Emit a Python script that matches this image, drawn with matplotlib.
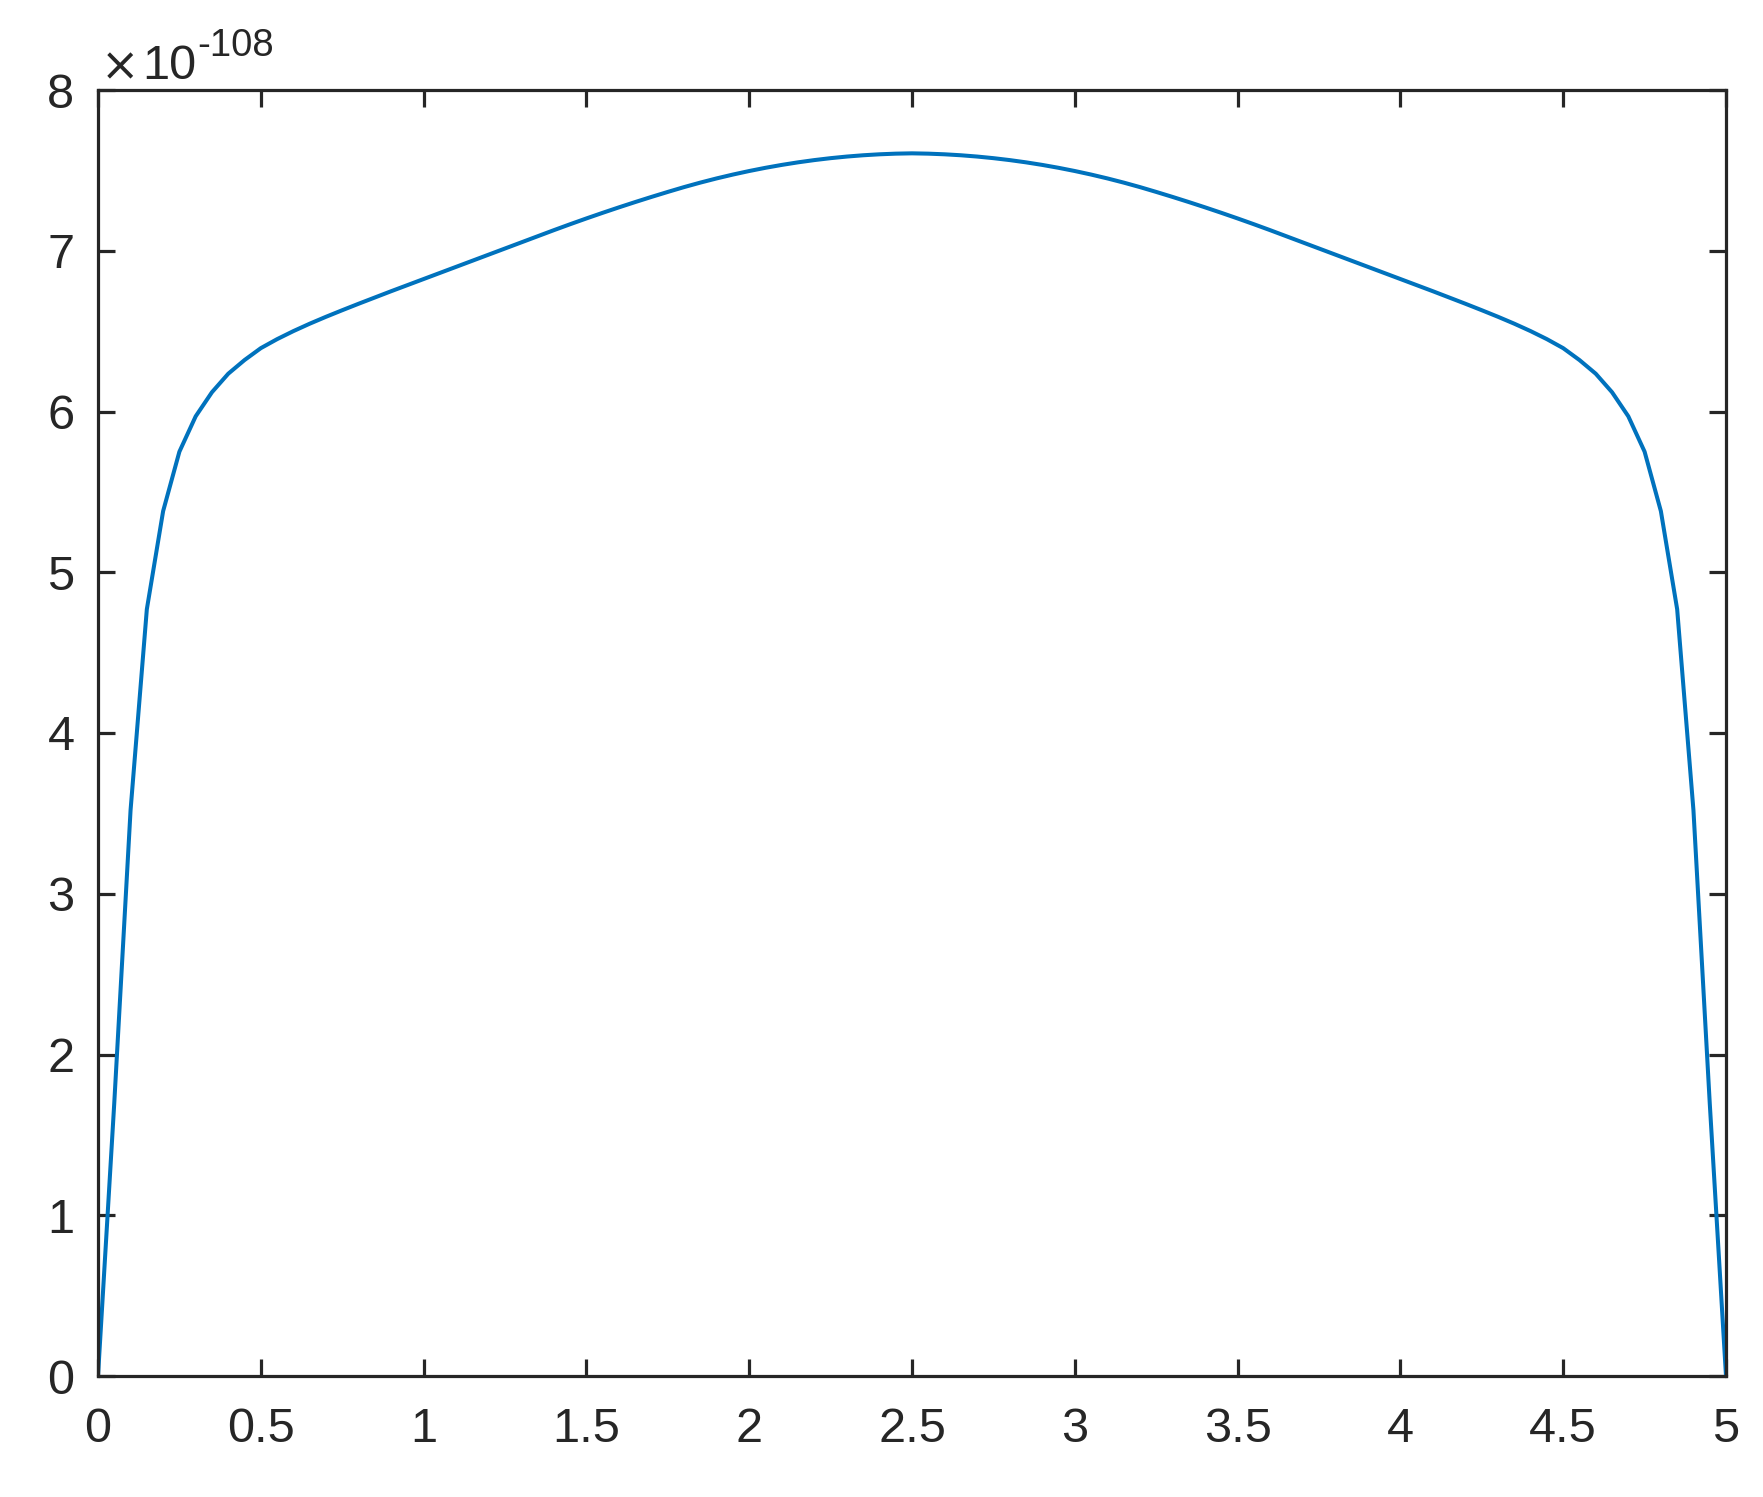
import numpy as np
import matplotlib
matplotlib.use("Agg")
import matplotlib.pyplot as plt

# Data (values in units of 1e-108)
x = [round(0.05 * i, 2) for i in range(101)]
y = [0.00, 1.70, 3.52, 4.77, 5.38, 5.75, 5.97, 6.12, 6.235, 6.32,
     6.394, 6.450, 6.500, 6.546, 6.589, 6.630, 6.670, 6.709, 6.748, 6.786,
     6.824, 6.862, 6.900, 6.938, 6.976, 7.014, 7.052, 7.090, 7.128, 7.165,
     7.201, 7.236, 7.270, 7.303, 7.335, 7.366, 7.396, 7.424, 7.450, 7.474,
     7.496, 7.516, 7.534, 7.550, 7.564, 7.576, 7.586, 7.594, 7.600, 7.604,
     7.606,
     7.604, 7.600, 7.594, 7.586, 7.576, 7.564, 7.550, 7.534, 7.516, 7.496,
     7.474, 7.450, 7.424, 7.396, 7.366, 7.335, 7.303, 7.270, 7.236, 7.201,
     7.165, 7.128, 7.090, 7.052, 7.014, 6.976, 6.938, 6.900, 6.862, 6.824,
     6.786, 6.748, 6.709, 6.670, 6.630, 6.589, 6.546, 6.500, 6.450, 6.394,
     6.32, 6.235, 6.12, 5.97, 5.75, 5.38, 4.77, 3.52, 1.70, 0.00]
xticks = [0, 0.5, 1, 1.5, 2, 2.5, 3, 3.5, 4, 4.5, 5]
xticklabels = ["0", "0.5", "1", "1.5", "2", "2.5", "3", "3.5", "4", "4.5", "5"]
yticks = [0, 1, 2, 3, 4, 5, 6, 7, 8]
yticklabels = ["0", "1", "2", "3", "4", "5", "6", "7", "8"]

W, H = 1763, 1497
DPI = 100
plt.rcParams['font.family'] = ['Liberation Sans', 'DejaVu Sans']
TXT = '#262626'

fig = plt.figure(figsize=(W / DPI, H / DPI), dpi=DPI)
left, right, top, bottom = 98, 1726, 90, 1376
ax = fig.add_axes([left / W, 1 - bottom / H, (right - left) / W, (bottom - top) / H])

ax.plot(x, y, color='#0072BD', linewidth=2.9)
ax.set_xlim(0, 5)
ax.set_ylim(0, 8)
ax.set_xticks(xticks)
ax.set_xticklabels(xticklabels)
ax.set_yticks(yticks)
ax.set_yticklabels(yticklabels)

for s in ax.spines.values():
    s.set_color(TXT)
    s.set_linewidth(2.3)
ax.tick_params(axis='both', which='major', direction='in', length=12.5, width=2.3,
               color=TXT, labelcolor=TXT, labelsize=35, top=True, right=True)
ax.tick_params(axis='x', pad=22)
ax.tick_params(axis='y', pad=17)

# exponent label
fig.text(101 / W, 1 - 80 / H, "\u00d7", fontsize=33, color=TXT, va='baseline', ha='left',
         family='DejaVu Sans')
fig.text(142 / W, 1 - 79 / H, "10", fontsize=35, color=TXT, va='baseline', ha='left')
fig.text(197 / W, 1 - 56 / H, "-108", fontsize=27.5, color=TXT, va='baseline', ha='left')

fig.savefig("out.png", dpi=DPI, facecolor='white')
